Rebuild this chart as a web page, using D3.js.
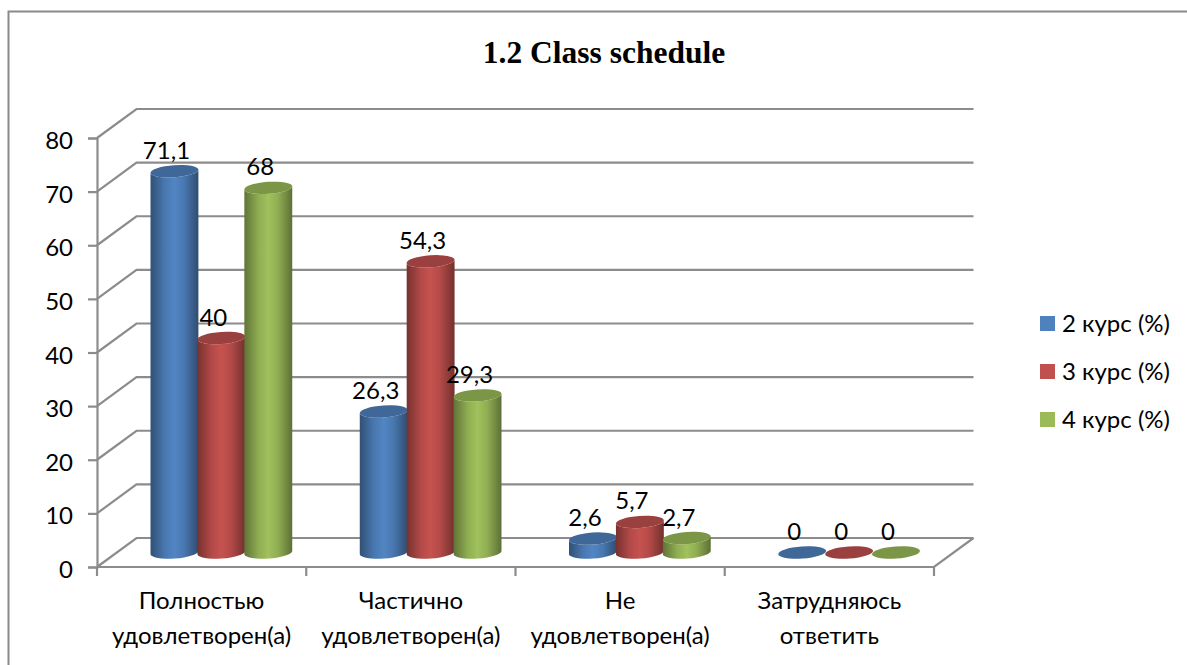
<!DOCTYPE html>
<html>
<head>
<meta charset="utf-8">
<script src="https://cdn.jsdelivr.net/npm/d3@7/dist/d3.min.js"></script>
<style>
  html, body { margin: 0; padding: 0; background: #fff; }
  svg { display: block; }
  text { font-family: Lato, "Open Sans", sans-serif; fill: #000; }
  .grid { fill: none; stroke: #8c8c8c; stroke-width: 2.2; }
</style>
</head>
<body>
<svg id="svg" width="1187" height="665"></svg>
<script>
const categories = [
  ["Полностью", "удовлетворен(а)"],
  ["Частично", "удовлетворен(а)"],
  ["Не", "удовлетворен(а)"],
  ["Затрудняюсь", "ответить"]
];
const seriesNames = ["2 курс (%)", "3 курс (%)", "4 курс (%)"];
const course2 = [71.1, 26.3, 2.6, 0];
const course3 = [40, 54.3, 5.7, 0];
const course4 = [68, 29.3, 2.7, 0];
const yTicks = [0, 10, 20, 30, 40, 50, 60, 70, 80];
const colors = ["#4f81bd", "#c0504d", "#9bbb59"];

const series = [course2, course3, course4];

const svg = d3.select("svg#svg");

const plot = { left: 97, right: 934, top: 138, bottom: 567, depthX: 39.5, depthY: 29 };

const x = d3.scaleBand().domain(d3.range(categories.length)).range([plot.left, plot.right]);
const y = d3.scaleLinear().domain([0, 80]).range([plot.bottom, plot.top]);
const inner = d3.scaleBand().domain(d3.range(series.length))
  .range([0, x.bandwidth()]).paddingInner(0).paddingOuter(0.73);

// frame, cut off by the screenshot on the right and at the bottom
svg.append("path")
  .attr("d", "M8.5,665V11.5H1187")
  .attr("fill", "none")
  .attr("stroke", "#8a8a8a")
  .attr("stroke-width", 2);

svg.append("text")
  .attr("x", 604)
  .attr("y", 63)
  .attr("text-anchor", "middle")
  .style("font-family", "'Liberation Serif', serif")
  .style("font-weight", "bold")
  .style("font-size", "31.5px")
  .text("1.2 Class schedule");

// gradients for the cylinders
let defs = svg.append("defs");
colors.forEach(function(c, i) {
  let grad = defs.append("linearGradient").attr("id", "cyl" + i);
  [[0, 0.62], [0.3, 0.93], [0.5, 1.03], [0.7, 0.93], [1, 0.6]].forEach(function(s) {
    let base = d3.rgb(c);
    grad.append("stop")
      .attr("offset", s[0])
      .attr("stop-color", d3.rgb(base.r * s[1], base.g * s[1], base.b * s[1]).formatHex());
  });
});

// walls and floor
let walls = svg.append("g");
yTicks.forEach(function(t) {
  walls.append("path")
    .attr("class", "grid")
    .attr("d", d3.line()([
      [plot.left, y(t)],
      [plot.left + plot.depthX, y(t) - plot.depthY],
      [plot.right + plot.depthX, y(t) - plot.depthY]
    ]));
});
walls.append("path")
  .attr("class", "grid")
  .attr("d", d3.line()([
    [plot.left, plot.bottom],
    [plot.right, plot.bottom],
    [plot.right + plot.depthX, plot.bottom - plot.depthY]
  ]));

// axes
let yAxis = svg.append("g")
  .attr("transform", "translate(" + plot.left + ",0)")
  .call(d3.axisLeft(y).tickValues(yTicks).tickSize(9).tickPadding(15));
yAxis.select(".domain").attr("class", "grid");
yAxis.selectAll("line").attr("stroke", "#8c8c8c").attr("stroke-width", 2.2);
yAxis.selectAll("text").style("font-size", "24px").attr("dy", "0.44em");

let catEdges = x.domain().map(d => x(d)).concat([plot.right]);
svg.append("g").selectAll("line")
  .data(catEdges)
  .enter()
  .append("line")
  .attr("x1", d => d)
  .attr("x2", d => d)
  .attr("y1", plot.bottom)
  .attr("y2", plot.bottom + 9)
  .attr("stroke", "#8c8c8c")
  .attr("stroke-width", 2.2);

let catLabels = svg.append("g").selectAll("text")
  .data(categories)
  .enter()
  .append("text")
  .attr("text-anchor", "middle")
  .style("font-size", "24px");
catLabels.each(function(d, i) {
  let t = d3.select(this);
  d.forEach(function(line, j) {
    t.append("tspan")
      .attr("x", x(i) + x.bandwidth() / 2)
      .attr("y", 609 + j * 35)
      .text(line);
  });
});

// cylinders
const rx = 24, ry = 6, tilt = -4;
const tiltX = rx * Math.cos(tilt * Math.PI / 180);
const tiltY = rx * Math.sin(tilt * Math.PI / 180);

var cylinderBody = function(cx, yTop, yBase) {
  return "M" + (cx - tiltX) + "," + (yTop - tiltY)
    + "L" + (cx - tiltX) + "," + (yBase - tiltY)
    + "A" + rx + "," + ry + " " + tilt + " 0 0 " + (cx + tiltX) + "," + (yBase + tiltY)
    + "L" + (cx + tiltX) + "," + (yTop + tiltY)
    + "A" + rx + "," + ry + " " + tilt + " 0 1 " + (cx - tiltX) + "," + (yTop - tiltY) + "Z";
}

let bars = svg.append("g");
categories.forEach(function(cat, i) {
  series.forEach(function(values, s) {
    let cx = x(i) + inner(s) + inner.bandwidth() / 2 + plot.depthX / 2;
    let yTop = y(values[i]) - plot.depthY / 2;
    let yBase = y(0) - plot.depthY / 2;
    let g = bars.append("g");
    if (values[i] > 0) {
      g.append("path")
        .attr("d", cylinderBody(cx, yTop, yBase))
        .attr("fill", "url(#cyl" + s + ")");
    }
    g.append("ellipse")
      .attr("transform", "translate(" + cx + "," + yTop + ") rotate(" + tilt + ")")
      .attr("rx", rx)
      .attr("ry", ry)
      .attr("fill", d3.rgb(colors[s]).darker(0.62).formatHex());
  });
});

// data labels go on top of every bar
let labels = svg.append("g");
categories.forEach(function(cat, i) {
  series.forEach(function(values, s) {
    labels.append("text")
      .attr("x", x(i) + inner(s) + inner.bandwidth() / 2 + plot.depthX / 2 - 8)
      .attr("y", y(values[i]) - plot.depthY / 2 - 12.5)
      .attr("text-anchor", "middle")
      .style("font-size", "24px")
      .text(String(values[i]).replace(".", ","));
  });
});

// legend
const legendY = d3.scalePoint().domain(seriesNames).range([323.5, 419.5]);
let legend = svg.append("g").selectAll("g")
  .data(seriesNames)
  .enter()
  .append("g")
  .attr("transform", d => "translate(1040," + legendY(d) + ")");
legend.append("rect")
  .attr("y", -7.5)
  .attr("width", 15)
  .attr("height", 15)
  .attr("fill", (d, i) => colors[i]);
legend.append("text")
  .attr("x", 22)
  .attr("y", 8)
  .style("font-size", "24px")
  .text(d => d);
</script>
</body>
</html>
